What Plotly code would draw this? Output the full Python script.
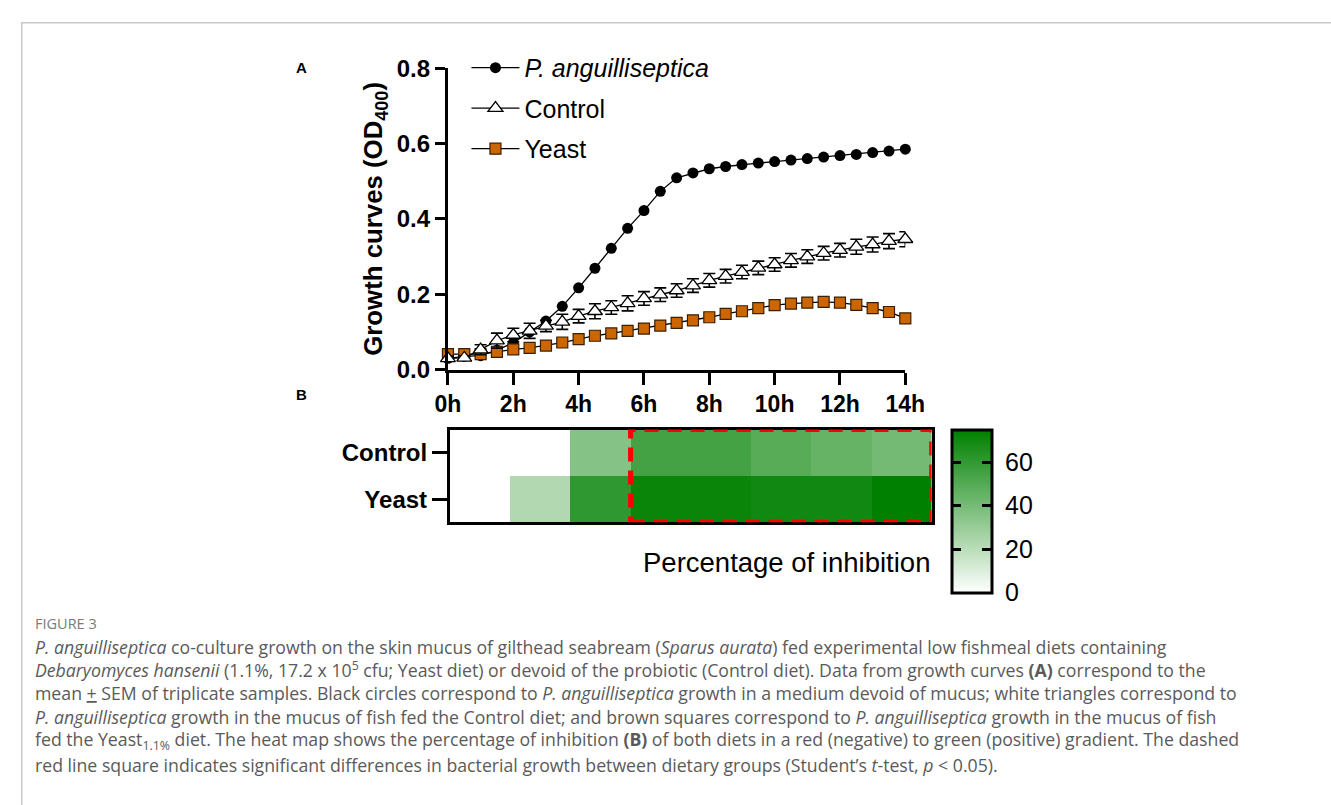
import plotly.graph_objects as go

W, H = 1331, 805


def px(x):
    return x / W


def py(y):
    return 1 - y / H


# ---------------- data ----------------
time_h = [0, 0.5, 1, 1.5, 2, 2.5, 3, 3.5, 4, 4.5, 5, 5.5, 6, 6.5, 7, 7.5, 8, 8.5, 9, 9.5,
          10, 10.5, 11, 11.5, 12, 12.5, 13, 13.5, 14]
p_anguilliseptica = [0.030, 0.035, 0.037, 0.052, 0.071, 0.100, 0.129, 0.168, 0.217, 0.269,
                     0.322, 0.375, 0.422, 0.473, 0.509, 0.522, 0.533, 0.539, 0.544, 0.548,
                     0.552, 0.556, 0.560, 0.564, 0.568, 0.571, 0.576, 0.580, 0.585]
control = [0.030, 0.031, 0.053, 0.077, 0.092, 0.103, 0.116, 0.127, 0.142, 0.155,
           0.165, 0.176, 0.189, 0.199, 0.210, 0.223, 0.237, 0.248, 0.259, 0.270,
           0.279, 0.290, 0.300, 0.309, 0.317, 0.326, 0.332, 0.341, 0.346]
control_sem = [0.006, 0.006, 0.013, 0.020, 0.018, 0.020, 0.015, 0.020, 0.018, 0.020,
               0.018, 0.020, 0.018, 0.018, 0.018, 0.018, 0.018, 0.018, 0.018, 0.018,
               0.018, 0.018, 0.018, 0.018, 0.018, 0.020, 0.020, 0.020, 0.020]
yeast = [0.041, 0.041, 0.041, 0.047, 0.054, 0.058, 0.064, 0.072, 0.081, 0.090,
         0.096, 0.103, 0.109, 0.117, 0.124, 0.131, 0.139, 0.148, 0.155, 0.163,
         0.171, 0.175, 0.178, 0.180, 0.178, 0.172, 0.163, 0.153, 0.136]

x_tick_vals = [0, 2, 4, 6, 8, 10, 12, 14]
x_tick_text = ["0h", "2h", "4h", "6h", "8h", "10h", "12h", "14h"]
y_tick_vals = [0.0, 0.2, 0.4, 0.6, 0.8]
y_tick_text = ["0.0", "0.2", "0.4", "0.6", "0.8"]

hm_columns = [0, 1, 2, 3, 4, 5, 6, 7]
hm_rows = ["Yeast", "Control"]  # bottom to top
inhibition_control = [0, 0, 36, 55, 55, 49, 45, 41]
inhibition_yeast = [0, 23, 61, 72, 72, 70, 70, 75]
cbar_ticks = [0, 20, 40, 60]
cbar_inner_ticks = [20, 40, 60]
cbar_max = 75

caption_lines = [
    "<i>P. anguilliseptica</i> co-culture growth on the skin mucus of gilthead seabream (<i>Sparus aurata</i>) fed experimental low fishmeal diets containing",
    "<i>Debaryomyces hansenii</i> (1.1%, 17.2 x 10<sup>5</sup> cfu; Yeast diet) or devoid of the probiotic (Control diet). Data from growth curves <b>(A)</b> correspond to the",
    "mean <u>+</u> SEM of triplicate samples. Black circles correspond to <i>P. anguilliseptica</i> growth in a medium devoid of mucus; white triangles correspond to",
    "<i>P. anguilliseptica</i> growth in the mucus of fish fed the Control diet; and brown squares correspond to <i>P. anguilliseptica</i> growth in the mucus of fish",
    "fed the Yeast<sub>1.1%</sub> diet. The heat map shows the percentage of inhibition <b>(B)</b> of both diets in a red (negative) to green (positive) gradient. The dashed",
    "red line square indicates significant differences in bacterial growth between dietary groups (Student\u2019s <i>t</i>-test, <i>p</i> < 0.05).",
]
caption_y = [654.5, 678.7, 702.9, 727.1, 751.3, 777.5]

FONT = "Liberation Sans, Arial, sans-serif"
CAP_FONT = "Open Sans, Lato, sans-serif"
CLEAR = "rgba(0,0,0,0)"

fig = go.Figure()

# ---------------- panel A ----------------
fig.add_trace(go.Scatter(
    x=time_h, y=p_anguilliseptica, mode="lines+markers",
    name="<i>P. anguilliseptica</i>", legendrank=1, legendgroup="g0",
    line=dict(color="black", width=1.3),
    marker=dict(symbol="circle", size=11, color="black"),
    cliponaxis=False, xaxis="x", yaxis="y"))
fig.add_trace(go.Scatter(
    x=time_h, y=yeast, mode="lines+markers",
    name="Yeast", legendrank=3, legendgroup="g2",
    line=dict(color="black", width=1.3),
    marker=dict(symbol="square", size=11, color="#cc6600",
                line=dict(color="#3a2000", width=1.2)),
    cliponaxis=False, xaxis="x", yaxis="y"))
fig.add_trace(go.Scatter(
    x=time_h, y=control, mode="lines+markers",
    name="Control", legendrank=2, legendgroup="g1",
    error_y=dict(type="data", array=control_sem, color="black", thickness=1.6, width=6),
    line=dict(color="black", width=1.3),
    marker=dict(symbol="triangle-up", size=13, color="white",
                line=dict(color="black", width=1.3)),
    cliponaxis=False, xaxis="x", yaxis="y"))

# ---------------- panel B heatmap ----------------
cb_common = dict(xanchor="left", xpad=0, y=py(430), yanchor="top", ypad=0,
                 len=163, lenmode="pixels", thicknessmode="pixels")
fig.add_trace(go.Heatmap(
    x=hm_columns, y=hm_rows, z=[inhibition_yeast, inhibition_control],
    xaxis="x2", yaxis="y2", zmin=0, zmax=cbar_max,
    colorscale=[[0, "#ffffff"], [1, "#008000"]],
    showlegend=False,
    colorbar=dict(
        x=px(963), thickness=40,
        outlinewidth=3, outlinecolor="black",
        tickvals=cbar_ticks, ticks="outside", ticklen=7, tickwidth=1,
        tickcolor=CLEAR,
        tickfont=dict(family=FONT, size=25, color="black"),
        **cb_common),
))
# transparent overlays that only draw the inner colour-bar ticks (left and right edges)
for cb_x in (963, 994):
    fig.add_trace(go.Heatmap(
        x=hm_columns, y=hm_rows, z=[inhibition_yeast, inhibition_control],
        xaxis="x2", yaxis="y2", zmin=0, zmax=cbar_max,
        colorscale=[[0, CLEAR], [1, CLEAR]], hoverinfo="skip", showlegend=False,
        colorbar=dict(
            x=px(cb_x), thickness=9, outlinewidth=0, bgcolor=CLEAR,
            tickvals=cbar_inner_ticks, ticks="inside", ticklen=9, tickwidth=3,
            tickcolor="black", showticklabels=False,
            **cb_common),
    ))

shapes = []
# significance dashed box (in heatmap data coords)
shapes.append(dict(type="rect", xref="x2", yref="y2", x0=2.5, x1=7.5, y0=-0.5, y1=1.5,
                   line=dict(color="#ff0000", width=5, dash="14px,9px"), layer="above"))
# page frame
shapes.append(dict(type="rect", xref="paper", yref="paper",
                   x0=px(9), x1=1.05, y0=-0.05, y1=py(9),
                   line=dict(color="#c8c8c8", width=1.5)))

annotations = []
annotations.append(dict(text="<b>A</b>", x=px(288), y=py(44), xref="paper", yref="paper",
                        showarrow=False, font=dict(family=FONT, size=15, color="black")))
annotations.append(dict(text="<b>B</b>", x=px(288), y=py(394), xref="paper", yref="paper",
                        showarrow=False, font=dict(family=FONT, size=15, color="black")))
annotations.append(dict(text="Percentage of inhibition", x=px(942), y=py(568),
                        xref="paper", yref="paper", xanchor="right", yanchor="middle",
                        showarrow=False, font=dict(family=FONT, size=27.5, color="black")))
annotations.append(dict(text="FIGURE 3", x=px(20), y=py(631), xref="paper", yref="paper",
                        xanchor="left", yanchor="middle", showarrow=False,
                        font=dict(family=CAP_FONT, size=14.5, color="#7a7a7a")))
for line, yy in zip(caption_lines, caption_y):
    annotations.append(dict(text=line, x=px(20), y=py(yy), xref="paper", yref="paper",
                            xanchor="left", yanchor="middle", showarrow=False, align="left",
                            font=dict(family=CAP_FONT, size=17.7, color="#5a5a5a")))

axis_font = dict(family=FONT, size=23, color="black", weight="bold")

fig.update_layout(
    width=W, height=H,
    margin=dict(l=0, r=0, t=0, b=0),
    paper_bgcolor="white", plot_bgcolor=CLEAR,
    showlegend=True,
    legend=dict(x=px(465), y=py(32), xanchor="left", yanchor="top",
                bgcolor=CLEAR, font=dict(family=FONT, size=25, color="black"),
                tracegroupgap=5, itemwidth=48, traceorder="grouped"),
    xaxis=dict(domain=[px(446), px(915)], range=[0, 14], anchor="y",
               tickvals=x_tick_vals, ticktext=x_tick_text,
               showline=True, linewidth=3, linecolor="black",
               ticks="outside", ticklen=12, tickwidth=3, tickcolor="black",
               showgrid=False, zeroline=False, tickfont=axis_font),
    yaxis=dict(domain=[py(368), py(56)], range=[0, 0.8], anchor="x",
               tickvals=y_tick_vals, ticktext=y_tick_text,
               showline=True, linewidth=3, linecolor="black",
               ticks="outside", ticklen=10, tickwidth=3, tickcolor="black",
               showgrid=False, zeroline=False,
               tickfont=dict(family=FONT, size=24, color="black", weight="bold"),
               title=dict(text="<b>Growth curves (OD<sub>400</sub>)</b>", standoff=7,
                          font=dict(family=FONT, size=25.8, color="black"))),
    xaxis2=dict(domain=[px(448), px(942)], range=[-0.5, 7.5], anchor="y2",
                showticklabels=False, ticks="", showgrid=False, zeroline=False,
                showline=True, mirror=True, linewidth=3, linecolor="black"),
    yaxis2=dict(domain=[py(526), py(430)], range=[-0.5, 1.5], anchor="x2",
                type="category", categoryorder="array", categoryarray=hm_rows,
                ticks="outside", ticklen=15, tickwidth=3, tickcolor="black",
                showgrid=False, zeroline=False,
                showline=True, mirror=True, linewidth=3, linecolor="black",
                tickfont=dict(family=FONT, size=24, color="black", weight="bold")),
    shapes=shapes,
    annotations=annotations,
)

fig.write_html("out.html", config={"displayModeBar": False},
               post_script="document.body.style.margin='0';document.body.style.overflow='hidden';")
